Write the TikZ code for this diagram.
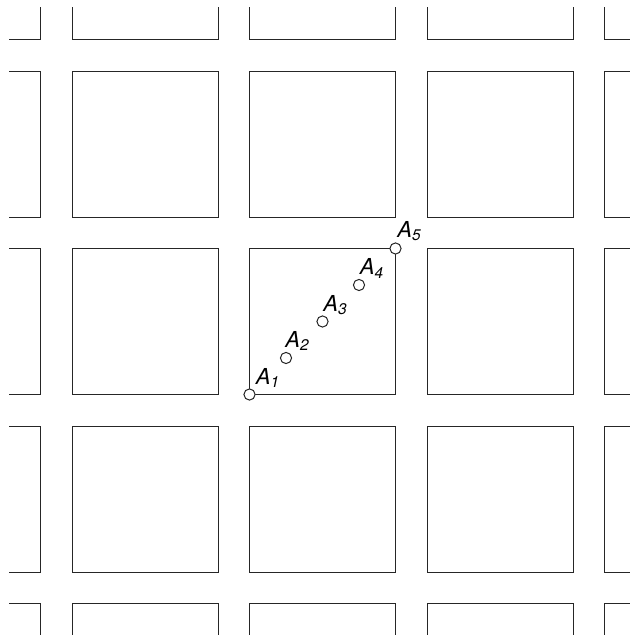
\documentclass[tikz,border=0pt]{standalone}
\usepackage{fontspec}
\setsansfont{TeX Gyre Heros}
\usetikzlibrary{positioning}

\tikzset{
  block/.style={draw=black!85, line width=0.45pt},
  spot/.style={circle, draw=black!85, fill=white, line width=0.5pt, minimum size=5.6pt, inner sep=0pt},
  tag/.style={font=\sffamily\itshape\fontsize{11}{13}\selectfont, inner sep=0pt, anchor=base west},
}

\begin{document}
\begin{tikzpicture}[x=0.5pt, y=-0.5pt]
  \useasboundingbox (0,0) rectangle (629,635);
  % the blocks of the street grid
  \begin{scope}
    \clip (9,8) rectangle (640,645);
    \foreach \i in {-1,...,3}
      \foreach \j in {-1,...,3}
        \draw[block] (72+177.5*\i, 71+177.5*\j) rectangle +(146,146);
  \end{scope}
  % points on the diagonal of the middle block
  \node[spot] (A1) at (249.5,394.5) {};
  \node[spot] (A2) at (286,358) {};
  \node[spot] (A3) at (322.5,321.5) {};
  \node[spot] (A4) at (359,285) {};
  \node[spot] (A5) at (395.5,248.5) {};
  \node[tag] (l1) at ([shift={(6,-10)}]A1.center) {A\textsubscript{1}};
  \node[tag] (l2) at ([shift={(-1,-11)}]A2.center) {A\textsubscript{2}};
  \node[tag] (l3) at ([shift={(0.5,-10)}]A3.center) {A\textsubscript{3}};
  \node[tag] (l4) at ([shift={(0.5,-10)}]A4.center) {A\textsubscript{4}};
  \node[tag] (l5) at ([shift={(1.5,-11)}]A5.center) {A\textsubscript{5}};
\end{tikzpicture}
\end{document}
